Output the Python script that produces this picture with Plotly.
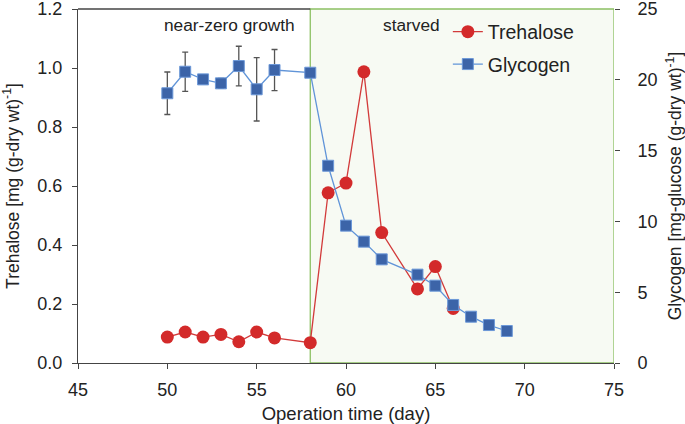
import plotly.graph_objects as go

# ---- data ----
treh_days = [50, 51, 52, 53, 54, 55, 56, 58, 59, 60, 61, 62, 64, 65, 66]
treh_vals = [0.088, 0.105, 0.088, 0.097, 0.072, 0.105, 0.085, 0.069, 0.577, 0.61, 0.987, 0.442, 0.251, 0.327, 0.185]

glyc_days = [50, 51, 52, 53, 54, 55, 56, 58, 59, 60, 61, 62, 64, 65, 66, 67, 68, 69]
glyc_vals = [19.05, 20.57, 20.03, 19.75, 20.97, 19.33, 20.69, 20.5, 13.93, 9.70, 8.57, 7.32, 6.24, 5.46, 4.10, 3.27, 2.68, 2.26]
glyc_err = [1.5, 1.39, 0.2, 0.35, 1.4, 2.24, 1.45, None, None, None, None, None, None, None, None, None, None, None]

starved_start = 58
x_min, x_max = 45, 75
x_ticks = [45, 50, 55, 60, 65, 70, 75]
y1_ticks = [0.0, 0.2, 0.4, 0.6, 0.8, 1.0, 1.2]
y2_ticks = [0, 5, 10, 15, 20, 25]

FONT = "Liberation Sans, Arial, sans-serif"
TXT = "#222222"
AX = "#444444"

fig = go.Figure()

fig.add_trace(go.Scatter(
    x=treh_days, y=treh_vals, name="Trehalose", mode="lines+markers",
    line=dict(color="#d23a3a", width=1.3),
    marker=dict(symbol="circle", size=13, color="#d32a2a", line=dict(color="#d32a2a", width=0)),
    legendgroup="a",
))
fig.add_trace(go.Scatter(
    x=glyc_days, y=glyc_vals, name="Glycogen", mode="lines+markers", yaxis="y2",
    line=dict(color="#6094d8", width=1.3),
    marker=dict(symbol="square", size=11, color="#3c64a8", line=dict(color="#6c98d8", width=1)),
    error_y=dict(type="data", array=glyc_err, visible=True, color="#555555", thickness=1.3, width=3),
    legendgroup="b",
))

# starved region (paper y so the top border is not clipped)
fig.add_shape(type="rect", xref="x", yref="paper", x0=starved_start, x1=x_max, y0=0, y1=1,
              fillcolor="#f7faf3", line=dict(color="#8cc063", width=1.3), layer="below")
# top frame line for the non-shaded part
fig.add_shape(type="line", xref="x", yref="paper", x0=x_min, x1=starved_start, y0=1, y1=1,
              line=dict(color=AX, width=1.3), layer="below")

fig.add_annotation(x=53.5, y=1.146, xref="x", yref="y", text="near-zero growth", showarrow=False,
                   font=dict(size=17.3, color=TXT, family=FONT))
fig.add_annotation(x=63.66, y=1.146, xref="x", yref="y", text="starved", showarrow=False,
                   font=dict(size=17.3, color=TXT, family=FONT))

fig.update_layout(
    width=685, height=424,
    margin=dict(l=78, r=71, t=9, b=61, autoexpand=False),
    paper_bgcolor="white", plot_bgcolor="white",
    font=dict(family=FONT, size=18, color=TXT),
    showlegend=True,
    legend=dict(x=0.69, y=0.99, xanchor="left", yanchor="top", bgcolor="rgba(0,0,0,0)",
                font=dict(size=19.5, color=TXT, family=FONT), tracegroupgap=4, itemwidth=30),
    xaxis=dict(range=[x_min, x_max], tickvals=x_ticks, showgrid=False, zeroline=False,
               showline=True, linecolor=AX, linewidth=1.3, ticks="outside", ticklen=5,
               tickcolor=AX, tickfont=dict(size=18), automargin=False, ticklabeloverflow="allow",
               ticklabelstandoff=5,
               title=dict(text="Operation time (day)", font=dict(size=18.5), standoff=10)),
    yaxis=dict(range=[0, 1.2], tickvals=y1_ticks, tickformat=".1f", showgrid=False, zeroline=False,
               showline=True, linecolor=AX, linewidth=1.3, ticks="outside", ticklen=5,
               tickcolor=AX, tickfont=dict(size=18), automargin=False, ticklabelstandoff=6,
               ticklabeloverflow="allow",
               title=dict(text="Trehalose [mg (g-dry wt)<sup>-1</sup>]", font=dict(size=17.5), standoff=13)),
    yaxis2=dict(range=[0, 25], tickvals=y2_ticks, overlaying="y", side="right", showgrid=False,
                zeroline=False, showline=False, ticks="outside", ticklen=5, tickcolor=AX,
                tickfont=dict(size=18), automargin=False, ticklabelstandoff=14,
                ticklabeloverflow="allow",
                title=dict(text="Glycogen [mg-glucose (g-dry wt)<sup>-1</sup>]", font=dict(size=17.5), standoff=15)),
)

fig.write_html("out.html", config={"displayModeBar": False},
               post_script="document.body.style.margin='0';document.body.style.padding='0';")
